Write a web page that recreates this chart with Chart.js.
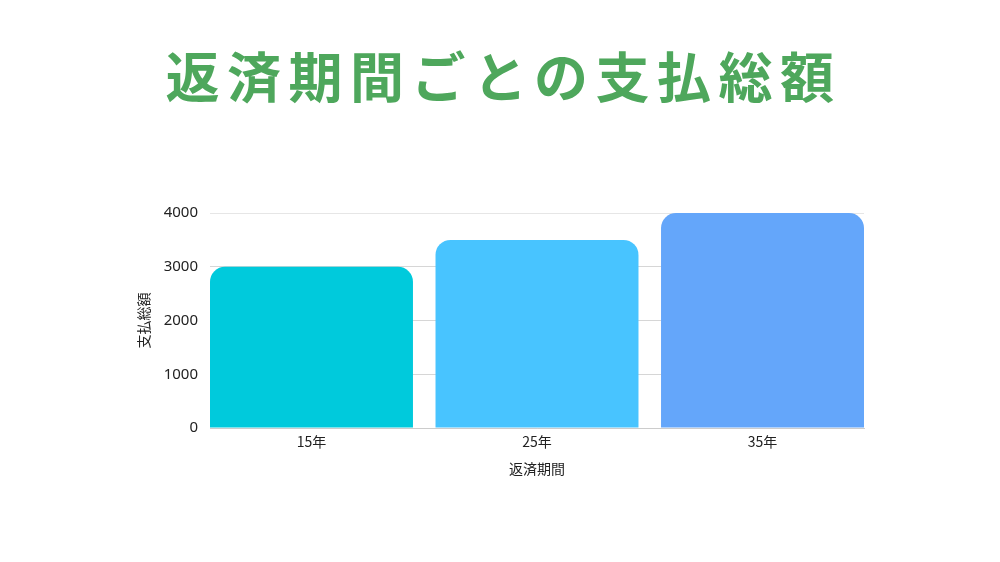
<!DOCTYPE html>
<html>
<head>
<meta charset="utf-8">
<script src="https://cdn.jsdelivr.net/npm/chart.js@4"></script>
<style>
html,body{margin:0;padding:0;background:#fff;}
#wrap{position:relative;width:1000px;height:562px;}
#title{position:absolute;left:0;top:40px;width:1000px;text-align:center;font-family:"Noto Sans CJK JP";font-weight:700;font-size:54px;line-height:70px;color:#4ea75c;letter-spacing:7.5px;padding-left:7px;box-sizing:border-box;}
canvas{position:absolute;left:0;top:0;}
</style>
</head>
<body>
<div id="wrap">
<div id="title">返済期間ごとの支払総額</div>
<canvas id="c" width="1000" height="562"></canvas>
</div>
<script>
const categories = ["15年", "25年", "35年"];
const totals = [3000, 3500, 4000];
const barColors = ["#00cadc", "#48c4ff", "#64a6fa"];
const yTicks = [0, 1000, 2000, 3000, 4000];
const xTitle = "返済期間";
const yTitle = "支払総額";

const font = {family: '"Noto Sans CJK JP", "Noto Sans", sans-serif', size: 14};
const tickFont = {family: '"Noto Sans", "Noto Sans CJK JP", sans-serif', size: 15};
const points = categories.map((c, i) => ({x: i, y: totals[i]}));

new Chart(document.getElementById('c'), {
  type: 'bar',
  data: {
    datasets: [{
      data: points,
      backgroundColor: barColors,
      borderRadius: {topLeft: 15, topRight: 15, bottomLeft: 0, bottomRight: 0},
      borderSkipped: 'bottom',
      barPercentage: 0.9,
      categoryPercentage: 1
    }]
  },
  options: {
    responsive: false,
    animation: false,
    devicePixelRatio: 1,
    layout: {padding: {left: 135, right: 136, top: 213, bottom: 81}},
    plugins: {legend: {display: false}, tooltip: {enabled: false}, title: {display: false}},
    scales: {
      x: {
        type: 'linear',
        offset: false,
        min: -0.45, max: categories.length - 0.55,
        afterBuildTicks: s => { s.ticks = categories.map((c, i) => ({value: i})); },
        grid: {display: false},
        border: {color: '#cccccc'},
        ticks: {font: font, color: '#222', padding: -3, callback: v => categories[v]},
        title: {display: true, text: xTitle, font: font, color: '#222', padding: {top: 6}},
        afterFit: s => { s.height = 53; }
      },
      y: {
        min: 0, max: 4000,
        afterBuildTicks: s => { s.ticks = yTicks.map(v => ({value: v})); },
        grid: {color: ctx => ctx.tick && ctx.tick.value === 4000 ? '#e6e6e6' : '#d6d6d6', drawTicks: false},
        border: {display: false},
        ticks: {font: tickFont, color: '#222', padding: 12, callback: v => String(v)},
        title: {display: true, text: yTitle, font: font, color: '#222', padding: {top: 0, bottom: 0}},
        afterFit: s => { s.width = 75; }
      }
    }
  }
});
</script>
</body>
</html>
